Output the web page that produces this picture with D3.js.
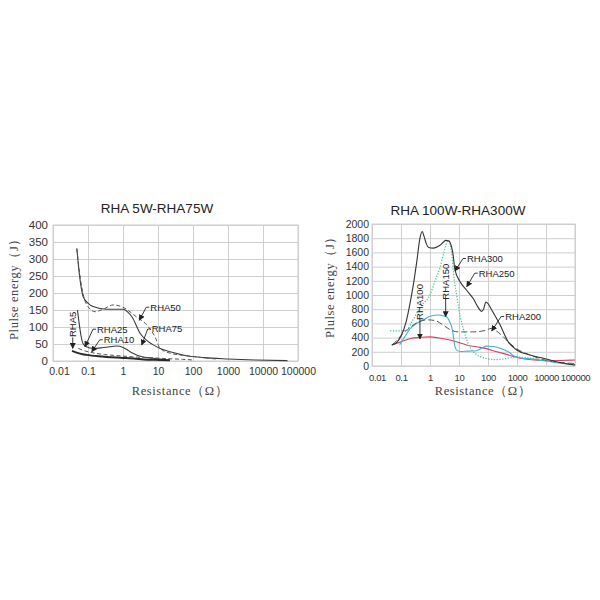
<!DOCTYPE html>
<html>
<head>
<meta charset="utf-8">
<script src="https://cdn.jsdelivr.net/npm/d3@7/dist/d3.min.js"></script>
<style>
  html, body { margin: 0; padding: 0; background: #fff; }
  svg { display: block; }
  .tick text { font-family: Arial, "Liberation Sans", sans-serif; fill: #333; }
</style>
</head>
<body>
<svg id="chart" width="600" height="600"></svg>
<script>
// ---------------- DATA ----------------
const xTickValues = [0.01, 0.1, 1, 10, 100, 1000, 10000, 100000];
const xTickLabels = ["0.01", "0.1", "1", "10", "100", "1000", "10000", "100000"];
const leftYTicks = [0, 50, 100, 150, 200, 250, 300, 350, 400];
const rightYTicks = [0, 200, 400, 600, 800, 1000, 1200, 1400, 1600, 1800, 2000];

const leftTitle = "RHA 5W-RHA75W";
const rightTitle = "RHA 100W-RHA300W";
const yAxisTitle = "Plulse energy（J）";
const xAxisTitle = "Resistance（Ω）";

// Left chart series: [resistance Ω, energy J]
const rha5 = [[0.035,30],[0.05,24],[0.07,20],[0.092,18],[0.2,14],[0.34,12],[1,9],[2,7],[5,4],[11.5,3],[22,2]];
const rha10 = [[0.053,37],[0.08,30],[0.14,24],[0.3,19],[0.66,16],[1.5,13],[3.1,11],[8,9],[17.7,7],[50,5],[100,3]];
const rha25 = [[0.05,150],[0.056,110],[0.063,75],[0.073,50],[0.09,42],[0.14,37],[0.25,39],[0.42,42],[0.66,44],[1,40],[1.3,34],[1.6,27],[2.2,20],[3.1,14],[7.3,8],[22,3]];
const rha50 = [[0.048,330],[0.055,275],[0.066,218],[0.08,180],[0.1,160],[0.16,145],[0.27,152],[0.53,165],[1,158],[2.4,130],[5.3,101],[8.2,71],[11.5,37],[22,23],[60,16],[155,11],[450,6]];
const rha75 = [[0.048,331],[0.056,260],[0.063,220],[0.073,189],[0.1,170],[0.14,160],[0.34,152],[1,152],[1.4,143],[1.8,130],[3.1,81],[5.3,57],[11.5,37],[27,25],[60,16],[200,10],[1000,6],[6000,3],[50000,1]];

// Right chart series
const rha100 = [[0.048,296],[0.1,340],[0.2,385],[0.5,405],[1,410],[2,395],[4.9,366],[10,330],[18,296],[40,270],[89,245],[200,200],[436,164],[1000,120],[2130,95],[5000,80],[10500,75],[30000,78],[100000,85]];
const rha150 = [[0.09,300],[0.12,380],[0.2,520],[0.35,600],[0.6,650],[1,700],[1.95,718],[3,705],[3.8,690],[4.8,620],[5.6,550],[6.5,400],[7.2,280],[8.5,220],[10.8,205],[20,210],[41,215],[60,250],[90,280],[150,275],[260,250],[500,200],[800,140],[1500,110],[3000,100],[10000,70],[30000,40],[100000,15]];
const rha200 = [[0.05,300],[0.08,380],[0.1,430],[0.2,540],[0.4,620],[0.8,650],[1.5,640],[3,570],[5,510],[10,480],[30,480],[80,500],[130,530],[200,490],[300,430],[600,310],[1000,240],[3000,150],[10000,80],[30000,50],[100000,35]];
const rha250 = [[0.048,296],[0.07,330],[0.1,420],[0.15,620],[0.2,860],[0.28,1200],[0.35,1470],[0.45,1800],[0.54,1895],[0.62,1830],[0.75,1720],[0.9,1670],[1.3,1660],[2.2,1700],[3.5,1770],[4.5,1760],[5.5,1680],[6.3,1560],[7.2,1360],[10.8,1190],[18,1070],[31,950],[45,830],[60,770],[70,800],[85,900],[100,880],[130,800],[260,580],[500,340],[980,225],[2800,155],[8100,108],[23000,61],[100000,14]];
const rha300 = [[0.042,495],[0.1,495],[0.15,500],[0.25,640],[0.5,850],[1,1000],[1.5,1200],[2.2,1380],[3,1600],[4.3,1770],[5,1700],[5.6,1590],[6.5,1300],[8.3,1000],[11,700],[14,530],[20,330],[35,180],[80,110],[200,90],[400,105],[1000,125],[3000,110],[10000,80],[30000,45],[100000,20]];

// ---------------- DRAW ----------------
const svg = d3.select("#chart");
const defs = svg.append("defs");
defs.append("marker")
  .attr("id", "arrow")
  .attr("viewBox", "0 0 10 10")
  .attr("refX", 9).attr("refY", 5)
  .attr("markerWidth", 6).attr("markerHeight", 6)
  .attr("markerUnits", "userSpaceOnUse")
  .attr("orient", "auto")
  .append("path").attr("d", "M0,0 L10,5 L0,10 z").attr("fill", "#222");

function panel(cfg) {
  const x = d3.scaleLog().domain([0.01, 100000]).range([cfg.left, cfg.right]);
  const y = d3.scaleLinear().domain([0, cfg.yMax]).range([cfg.bottom, cfg.top]);
  const g = svg.append("g");
  const gridColor = "#cfcfcf";

  // grid
  g.append("g").attr("transform", `translate(0,${cfg.bottom})`)
    .call(d3.axisBottom(x).tickValues(xTickValues).tickSize(-(cfg.bottom - cfg.top)).tickFormat(""))
    .call(a => a.select(".domain").remove())
    .call(a => a.selectAll("line").attr("stroke", gridColor));
  g.append("g").attr("transform", `translate(${cfg.left},0)`)
    .call(d3.axisLeft(y).tickValues(cfg.yTicks).tickSize(-(cfg.right - cfg.left)).tickFormat(""))
    .call(a => a.select(".domain").remove())
    .call(a => a.selectAll("line").attr("stroke", gridColor));
  g.append("rect").attr("x", cfg.left).attr("y", cfg.top)
    .attr("width", cfg.right - cfg.left).attr("height", cfg.bottom - cfg.top)
    .attr("fill", "none").attr("stroke", gridColor);

  // tick labels
  const xa = g.append("g").attr("transform", `translate(0,${cfg.bottom})`)
    .call(d3.axisBottom(x).tickValues(xTickValues).tickSize(0).tickPadding(cfg.xPad)
      .tickFormat((d, i) => xTickLabels[i]));
  xa.select(".domain").remove();
  xa.selectAll("text").style("font-size", cfg.xFont + "px")
    .style("letter-spacing", cfg.xSpacing + "px")
    .attr("dx", (d, i) => i === 0 ? cfg.firstDx : 0);
  const ya = g.append("g").attr("transform", `translate(${cfg.left},0)`)
    .call(d3.axisLeft(y).tickValues(cfg.yTicks).tickSize(0).tickPadding(cfg.yPad)
      .tickFormat(d3.format("d")));
  ya.select(".domain").remove();
  ya.selectAll("text").style("font-size", cfg.yFont + "px");

  // titles
  g.append("text").attr("x", cfg.titleX).attr("y", cfg.titleY)
    .attr("text-anchor", "middle")
    .style("font-family", "Arial, 'Liberation Sans', sans-serif")
    .style("font-size", "13.5px").attr("fill", "#222").text(cfg.title);
  g.append("text").attr("x", cfg.xtX).attr("y", 395)
    .attr("text-anchor", "middle")
    .style("font-family", "'Liberation Serif', 'Times New Roman', serif")
    .style("font-size", "12.5px").style("letter-spacing", "0.6px")
    .attr("fill", "#444").text(xAxisTitle);
  g.append("text").attr("transform", `translate(${cfg.ytX},${cfg.ytY}) rotate(-90)`)
    .attr("text-anchor", "middle")
    .style("font-family", "'Liberation Serif', 'Times New Roman', serif")
    .style("font-size", "12.5px").style("letter-spacing", "0.6px")
    .attr("fill", "#444").text(yAxisTitle);

  // series
  const line = d3.line().x(d => x(d[0])).y(d => y(d[1])).curve(d3.curveMonotoneX);
  cfg.series.forEach(s => {
    g.append("path").datum(s.data).attr("d", line)
      .attr("fill", "none").attr("stroke", s.color)
      .attr("stroke-width", s.width || 1.1)
      .attr("stroke-dasharray", s.dash || null);
  });

  // annotations
  const fontAnn = "Arial, 'Liberation Sans', sans-serif";
  cfg.notes.forEach(n => {
    const tx = x(n.at[0]), ty = y(n.at[1]);
    if (n.vertical) {
      const cy = ty + n.dy;
      g.append("text").attr("transform", `translate(${tx + 3.5},${cy}) rotate(-90)`)
        .attr("text-anchor", "middle")
        .style("font-family", fontAnn).style("font-size", "9.5px").attr("fill", "#222")
        .text(n.label);
      g.append("line").attr("x1", tx).attr("y1", cy + n.half + 2).attr("x2", tx).attr("y2", ty)
        .attr("stroke", "#222").attr("stroke-width", 0.9).attr("marker-end", "url(#arrow)");
    } else {
      const lx = tx + n.dx, ly = ty + n.dy;
      g.append("text").attr("x", lx).attr("y", ly).attr("dy", "0.35em")
        .style("font-family", fontAnn).style("font-size", "9.5px").attr("fill", "#222")
        .text(n.label);
      g.append("polyline")
        .attr("points", `${lx - 1},${ly} ${lx - 4},${ly} ${tx},${ty}`)
        .attr("fill", "none").attr("stroke", "#222").attr("stroke-width", 0.9)
        .attr("marker-end", "url(#arrow)");
    }
  });
}

panel({
  left: 53, right: 298, top: 225, bottom: 361, yMax: 400, yTicks: leftYTicks,
  xFont: 10.5, xSpacing: 0, yFont: 11.5, xPad: 7, yPad: 5, firstDx: 6,
  title: leftTitle, titleX: 157, titleY: 213,
  xtX: 180, ytX: 18, ytY: 286,
  series: [
    { data: rha75, color: "#3a3a3a", width: 1.1 },
    { data: rha50, color: "#555", width: 1.0, dash: "4,2.5" },
    { data: rha25, color: "#3a3a3a", width: 1.1 },
    { data: rha10, color: "#555", width: 1.0, dash: "4,2.5" },
    { data: rha5, color: "#2a2a2a", width: 2.0 }
  ],
  notes: [
    { label: "RHA50", at: [2.92, 120], dx: 11, dy: -13 },
    { label: "RHA75", at: [3.42, 47], dx: 10, dy: -16 },
    { label: "RHA25", at: [0.082, 42], dx: 12, dy: -17.5 },
    { label: "RHA10", at: [0.128, 27], dx: 12, dy: -12 },
    { label: "RHA5", at: [0.0366, 37], vertical: true, dy: -24, half: 11 }
  ]
});

panel({
  left: 372, right: 575, top: 224, bottom: 366, yMax: 2000, yTicks: rightYTicks,
  xFont: 9.5, xSpacing: -0.35, yFont: 10.5, xPad: 8, yPad: 3, firstDx: 5,
  title: rightTitle, titleX: 458, titleY: 215,
  xtX: 483, ytX: 334, ytY: 284,
  series: [
    { data: rha100, color: "#e23b5e", width: 1.1 },
    { data: rha150, color: "#3db3d8", width: 1.1 },
    { data: rha200, color: "#555", width: 1.0, dash: "6,3" },
    { data: rha300, color: "#4fbf9c", width: 1.2, dash: "1.3,1.5" },
    { data: rha250, color: "#333", width: 1.1 }
  ],
  notes: [
    { label: "RHA300", at: [7.28, 1338], dx: 12, dy: -12.5 },
    { label: "RHA250", at: [18.5, 1117], dx: 12, dy: -13.5 },
    { label: "RHA200", at: [134, 493], dx: 13.5, dy: -14.5 },
    { label: "RHA100", at: [0.45, 380], vertical: true, dy: -37, half: 15 },
    { label: "RHA150", at: [3.47, 694], vertical: true, dy: -35, half: 15 }
  ]
});
</script>
</body>
</html>
